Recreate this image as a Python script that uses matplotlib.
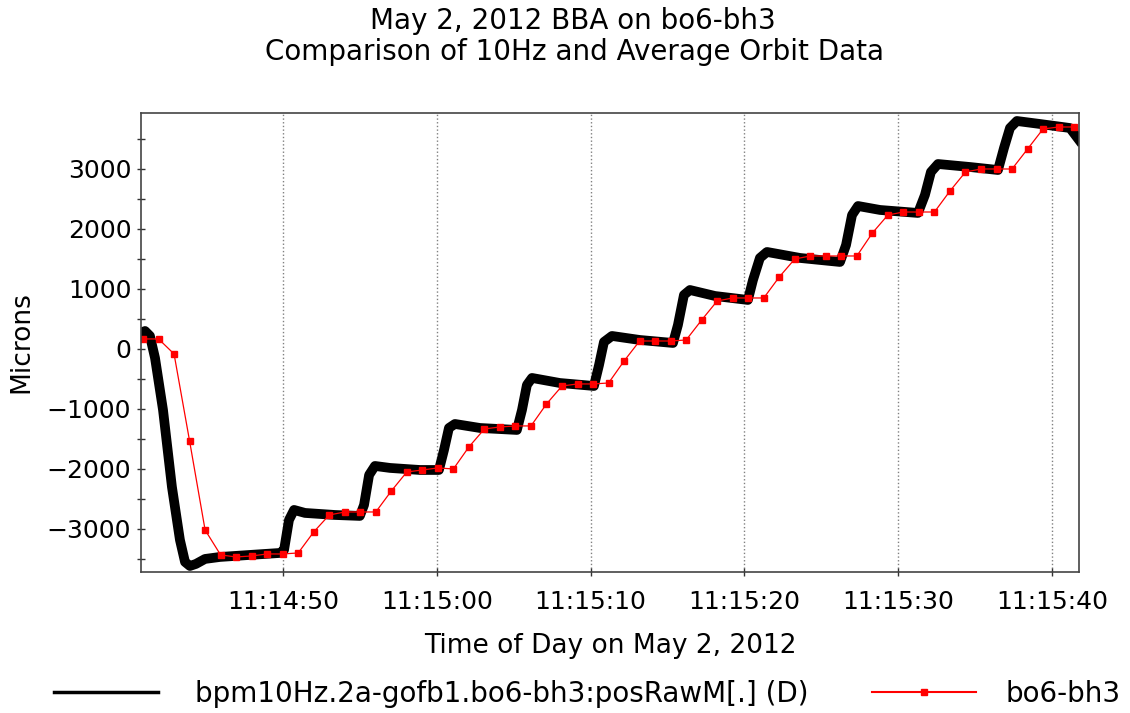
import numpy as np
import matplotlib
matplotlib.use('Agg')
import matplotlib.pyplot as plt
from matplotlib.lines import Line2D
from matplotlib.ticker import FuncFormatter, MultipleLocator

# time axis: seconds after 11:14:00 on May 2, 2012
# 10 Hz trace, key points (time [s], microns)
bpm_t = [40.77, 41.03, 41.35, 41.68, 42.20, 42.78, 43.30, 43.63, 43.95, 44.34,
         44.93, 45.90, 47.85, 49.80, 50.07, 50.39, 50.72, 51.43, 53.38, 55.00,
         55.27, 55.60, 55.98, 56.96, 58.91, 60.14, 60.47, 60.79, 61.18, 62.81,
         65.21, 65.54, 65.86, 66.19, 68.00, 70.22, 70.55, 70.87, 71.39, 73.20,
         75.36, 75.68, 76.07, 76.46, 78.09, 80.23, 80.56, 81.01, 81.47, 83.62,
         86.22, 86.61, 87.00, 87.39, 88.82, 91.29, 91.74, 92.13, 92.59, 94.67,
         96.49, 96.88, 97.27, 97.72, 99.22, 101.17, 101.76]
bpm_y = [267, 300, 217, -150, -1017, -2300, -3183, -3550, -3617, -3583,
         -3500, -3467, -3433, -3400, -3350, -2850, -2683, -2733, -2767, -2783,
         -2600, -2100, -1950, -1983, -2017, -2017, -1683, -1317, -1250, -1317,
         -1350, -1017, -600, -483, -567, -617, -267, 117, 217, 150,
         100, 400, 900, 983, 883, 817, 1150, 1517, 1617, 1517,
         1450, 1733, 2233, 2383, 2317, 2267, 2567, 2950, 3083, 3033,
         2983, 3350, 3683, 3800, 3750, 3683, 3483]

# average orbit data, one sample per ~1 s
avg_t0 = 40.9
avg_dt = 1.009
avg_y = [167, 167, -83, -1533, -3017, -3433, -3467, -3450, -3417, -3417,
         -3400, -3050, -2767, -2717, -2717, -2717, -2367, -2050, -2017, -1983,
         -2000, -1633, -1333, -1300, -1283, -1283, -917, -617, -583, -583,
         -567, -200, 133, 133, 133, 150, 483, 800, 850, 850,
         850, 1200, 1500, 1550, 1550, 1550, 1550, 1933, 2233, 2283,
         2283, 2283, 2633, 2950, 3000, 3000, 3000, 3333, 3667, 3700,
         3700]
avg_t = avg_t0 + avg_dt*np.arange(len(avg_y))

xticks = [50, 60, 70, 80, 90, 100]

def hms(t, pos=None):
    s = int(round(t))
    return '11:%02d:%02d' % (14 + s//60, s % 60)

fig = plt.figure(figsize=(11.3, 7.13), dpi=100)
ax = fig.add_axes([0.1248, 0.1978, 0.8301, 0.6437])

ax.plot(bpm_t, bpm_y, '-', color='black', lw=7, solid_joinstyle='round')
ax.plot(avg_t, avg_y, '-', color='red', lw=0.9, marker='s', ms=5,
        mec='red', mfc='red')

ax.set_xlim(40.77, 101.76)
ax.set_ylim(-3717, 3933)
ax.set_xticks(xticks)
ax.xaxis.set_major_formatter(FuncFormatter(hms))
ax.yaxis.set_major_locator(MultipleLocator(1000))
ax.yaxis.set_minor_locator(MultipleLocator(500))
ax.grid(axis='x', linestyle=':', color='gray', lw=1)
ax.tick_params(axis='both', which='both', direction='inout', length=6,
               width=1, color='#333333', labelsize=18)
ax.tick_params(axis='x', pad=10)
ax.tick_params(axis='y', pad=4)
for sp in ax.spines.values():
    sp.set_color('#444444')
    sp.set_linewidth(1.2)

ax.set_xlabel('Time of Day on May 2, 2012', fontsize=19, labelpad=14)
ax.set_ylabel('Microns', fontsize=19, labelpad=9)

fig.text(0.507, 0.970, 'May 2, 2012 BBA on bo6-bh3', ha='center', va='center', fontsize=20)
fig.text(0.508, 0.927, 'Comparison of 10Hz and Average Orbit Data', ha='center',
         va='center', fontsize=20)

# legend below the axes, one entry per legend so the gaps can differ
h_bpm = Line2D([], [], color='black', lw=2.5)
h_avg = Line2D([], [], color='red', lw=1.5, marker='s', ms=4)
fig.legend([h_bpm], ['bpm10Hz.2a-gofb1.bo6-bh3:posRawM[.] (D)'], loc='center left',
           bbox_to_anchor=(0.048, 0.027), frameon=False, fontsize=20,
           handlelength=3.74, handletextpad=1.33, borderpad=0, borderaxespad=0)
fig.legend([h_avg], ['bo6-bh3'], loc='center left',
           bbox_to_anchor=(0.772, 0.027), frameon=False, fontsize=20,
           handlelength=3.74, handletextpad=1.04, borderpad=0, borderaxespad=0)

fig.savefig('out.png', dpi=100)
